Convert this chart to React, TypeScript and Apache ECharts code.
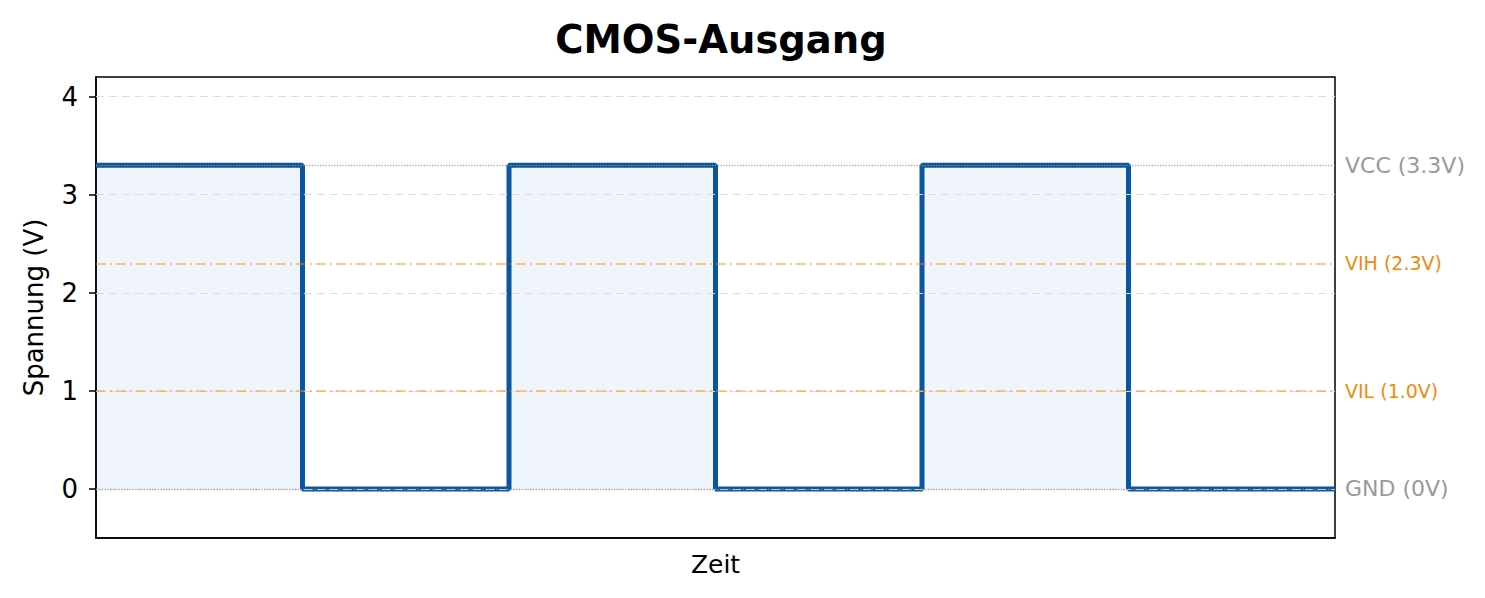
import React, { useEffect, useRef } from "react";
import * as echarts from "echarts";

const times = [0, 1, 2, 3, 4, 5, 6];
const voltages = [3.3, 0, 3.3, 0, 3.3, 0, 0];
const yTicks = [0, 1, 2, 3, 4];
const gridLevels = [0, 1, 2, 3, 4];
const railLevels = [3.3, 0];
const railLabels = ["VCC (3.3V)", "GND (0V)"];
const thresholdLevels = [2.3, 1.0];
const thresholdLabels = ["VIH (2.3V)", "VIL (1.0V)"];

const FONT = "DejaVu Sans";

export default function App() {
  const ref = useRef<HTMLDivElement>(null);
  useEffect(() => {
    if (!ref.current) return;
    const chart = echarts.init(ref.current, null, { renderer: "svg" });
    const pts = times.map((t, i) => [t, voltages[i]]);
    chart.setOption({
      animation: false,
      backgroundColor: "#ffffff",
      textStyle: { fontFamily: FONT },
      title: {
        text: "CMOS-Ausgang",
        left: 716,
        top: 15,
        textAlign: "center",
        textStyle: { fontFamily: FONT, fontWeight: "bold", fontSize: 38.5, color: "#000" },
      },
      grid: {
        left: 96,
        top: 77,
        width: 1239,
        height: 461,
        show: true,
        borderColor: "#000",
        borderWidth: 1.5,
        backgroundColor: "transparent",
      },
      xAxis: {
        type: "value",
        min: 0,
        max: 6,
        name: "Zeit",
        nameLocation: "middle",
        nameGap: 14,
        nameTextStyle: { fontFamily: FONT, fontSize: 25, color: "#000" },
        axisLine: { show: true, onZero: false, lineStyle: { color: "#000", width: 1.5 } },
        axisTick: { show: false },
        axisLabel: { show: false },
        splitLine: { show: false },
      },
      yAxis: {
        type: "value",
        min: -0.5,
        max: 4.2,
        name: "Spannung (V)",
        nameLocation: "middle",
        nameGap: 49,
        nameTextStyle: { fontFamily: FONT, fontSize: 26, color: "#000" },
        axisLine: { show: true, onZero: false, lineStyle: { color: "#000", width: 1.5 } },
        axisTick: { show: true, customValues: yTicks, length: 7, lineStyle: { color: "#000", width: 1.5 } },
        axisLabel: { show: true, customValues: yTicks, margin: 18, fontFamily: FONT, fontSize: 26, color: "#000" },
        splitLine: { show: false },
      },
      series: [
        {
          type: "line",
          data: pts,
          showSymbol: false,
          silent: true,
          z: 1,
          lineStyle: { width: 0, opacity: 0 },
          markLine: {
            silent: true,
            symbol: ["none", "none"],
            label: { show: false },
            lineStyle: { color: "#dddddd", type: [8, 5], width: 1.2 },
            data: gridLevels.map((v) => ({ yAxis: v })),
          },
        },
        {
          type: "line",
          data: pts,
          step: "end",
          showSymbol: false,
          silent: true,
          z: 2,
          lineStyle: { color: "#0a559f", width: 5 },
          areaStyle: { color: "rgba(0,90,180,0.09)" },
        },
        {
          type: "line",
          data: pts,
          showSymbol: false,
          silent: true,
          z: 3,
          lineStyle: { width: 0, opacity: 0 },
          markLine: {
            silent: true,
            symbol: ["none", "none"],
            data: [
              ...railLevels.map((v, i) => ({
                yAxis: v,
                lineStyle: { color: "rgba(150,150,150,0.75)", type: "dotted", width: 1.4 },
                label: {
                  show: true,
                  position: "end",
                  distance: 10,
                  formatter: railLabels[i],
                  color: "#999999",
                  fontFamily: FONT,
                  fontSize: 22,
                },
              })),
              ...thresholdLevels.map((v, i) => ({
                yAxis: v,
                lineStyle: { color: "rgba(255,140,0,0.6)", type: [10, 4, 2, 4], width: 1.5 },
                label: {
                  show: true,
                  position: "end",
                  distance: 10,
                  formatter: thresholdLabels[i],
                  color: "#f08a0c",
                  fontFamily: FONT,
                  fontSize: 19,
                },
              })),
            ],
          },
        },
      ],
    });
    return () => chart.dispose();
  }, []);
  return (
    <div
      ref={ref}
      style={{ position: "fixed", left: 0, top: 0, width: 1485, height: 598 }}
    />
  );
}
